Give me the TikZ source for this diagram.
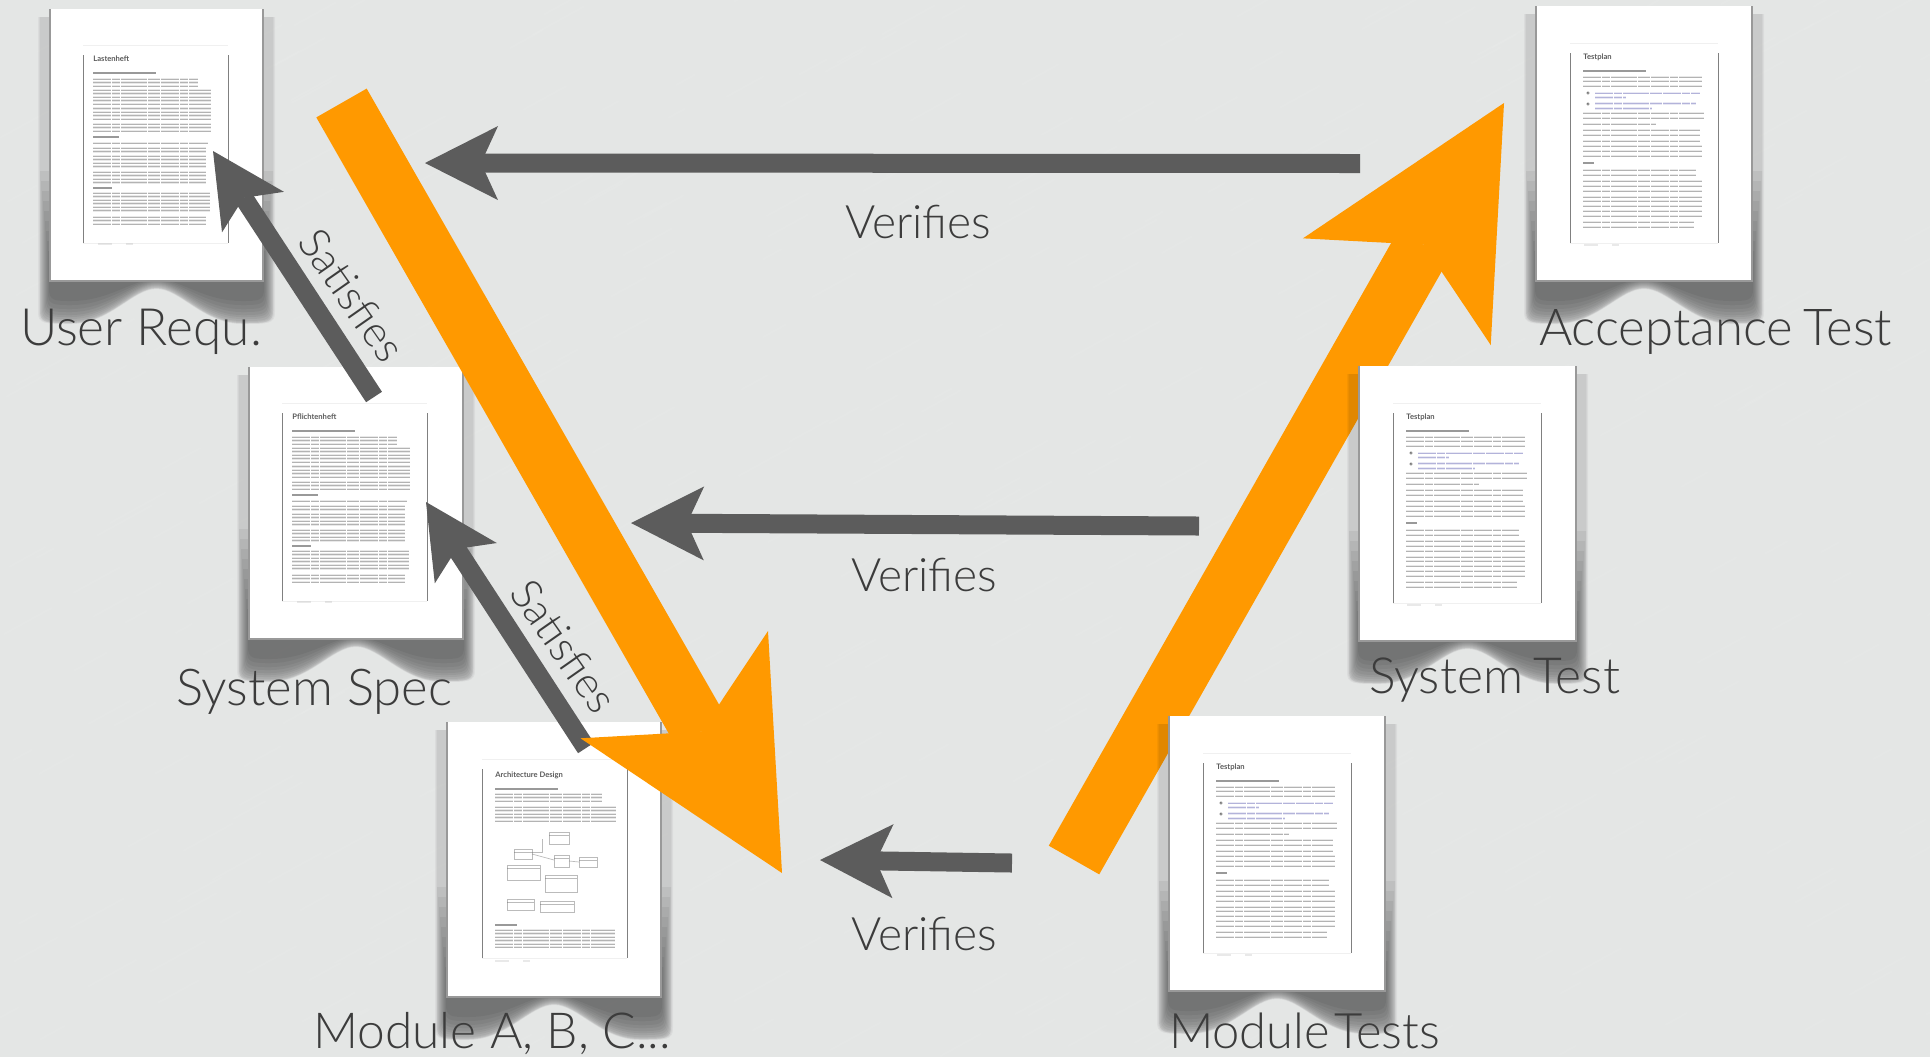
\documentclass[tikz,border=0pt]{standalone}
\usepackage{fontspec}
\usepackage{graphicx}
\setmainfont{Lato}[UprightFont=* Light,BoldFont=* Bold]
\setsansfont{Lato}
\usetikzlibrary{arrows.meta,calc}
\definecolor{bgcol}{HTML}{E4E6E5}
\definecolor{orangev}{HTML}{FF9900}
\definecolor{darkv}{HTML}{5C5C5C}
\definecolor{labelcol}{HTML}{3C3C3C}
\definecolor{rowcol}{HTML}{6A6A6A}
\definecolor{bluerow}{HTML}{6A6AB8}
\tikzset{
  x=0.5pt,y=-0.5pt,
  pagebox/.style={fill=white,inner sep=0pt,outer sep=0pt,anchor=north west},
  pageedge/.style={draw=black!40,line width=.6pt},
  bigarrow/.style={draw=orangev,line width=29pt,-{Stealth[length=108.5pt,width=108pt,inset=27pt,line width=0pt,fill=orangev]}},
  darkarrow/.style={draw=darkv,line width=9.5pt,-{Stealth[length=36.5pt,width=37pt,inset=8.5pt,line width=0pt,fill=darkv]}},
  doclabel/.style={text=labelcol,anchor=base west,inner sep=0pt,outer sep=0pt},
  linktext/.style={text=labelcol,inner sep=0pt,outer sep=0pt},
  rowa/.style={draw=rowcol,line width=1.3pt,opacity=.14,dash pattern=on 9pt off .5pt on 4pt off .5pt on 13pt off .5pt on 6pt off .5pt},
  rowb/.style={draw=rowcol,line width=.5pt,opacity=.42,dash pattern=on 9pt off .5pt on 4pt off .5pt on 13pt off .5pt on 6pt off .5pt},
  headrow/.style={draw=black,line width=1pt,opacity=.4},
  framerule/.style={draw=black!50,line width=.45pt},
  framefaint/.style={draw=black!6,line width=.4pt},
  minibox/.style={draw=rowcol,line width=.35pt,opacity=.45},
  minititle/.style={anchor=base west,inner sep=0pt,opacity=.65,font=\sffamily\bfseries\fontsize{3.8}{4}\selectfont},
}
\newcommand{\txrows}[3]{%
  \foreach \yy in {#3}{%
    \draw[rowa] (#1,\yy) -- (#2,\yy);
    \draw[rowb] (#1,\yy) -- (#2,\yy);
  }%
}
\newcommand{\bluerows}[3]{%
  \foreach \yy in {#3}{%
    \draw[rowa,draw=bluerow] (#1,\yy) -- (#2,\yy);
    \draw[rowb,draw=bluerow] (#1,\yy) -- (#2,\yy);
  }%
}
\newcommand{\innerframe}[4]{%
  \draw[framefaint] (#1,#3) -- (#2,#3);
  \draw[framefaint] (#1,#4) -- (#2,#4);
  \draw[framerule] (#1,#3+10) -- (#1,#4);
  \draw[framerule] (#2,#3+10) -- (#2,#4);
}
\newcommand{\footrows}[1]{%
  \draw[rowa] (48,#1) -- (62,#1);
  \draw[rowa] (76,#1) -- (83,#1);
}
\newcommand{\reqdoc}[1]{%
  \innerframe{33}{178}{36}{234}
  \node[minititle] at (43,52) {#1};
  \draw[headrow] (43,64) -- (106,64);
  \txrows{43}{148}{70,73.5,77}
  \txrows{43}{161}{81,84.5,88,91.5,95}
  \txrows{43}{161}{99.5,103,106.5,110}
  \txrows{43}{161}{115,118.5,122}
  \draw[headrow] (43,128) -- (69,128);
  \txrows{43}{158}{134}
  \txrows{43}{156}{139,142.5}
  \txrows{43}{156}{147,150.5,154,157.5}
  \txrows{43}{156}{163,166.5,170,173.5}
  \draw[headrow] (43,179) -- (62,179);
  \txrows{43}{160}{184,187.5,191,194.5,198,201.5}
  \txrows{43}{156}{208,211.5,215}
  \footrows{235}
}
\newcommand{\testdoc}{%
  \innerframe{34}{182}{37}{237}
  \node[minititle] at (47,53) {Testplan};
  \draw[headrow] (47,65) -- (110,65);
  \txrows{47}{166}{71,75,80}
  \draw[rowcol,line width=.3pt] (52,87) circle (1.2);
  \draw[rowcol,line width=.3pt] (52,98) circle (1.2);
  \bluerows{59}{164}{87}
  \bluerows{59}{90}{91.5}
  \bluerows{59}{160}{97.5}
  \bluerows{59}{116}{102.5}
  \txrows{47}{168}{107,112}
  \txrows{47}{120}{118}
  \txrows{47}{164}{124,129,135}
  \txrows{47}{166}{140,145,150}
  \draw[headrow] (47,157) -- (58,157);
  \txrows{47}{160}{164,169}
  \txrows{47}{166}{175,180,185,191,195,200,205,210}
  \txrows{47}{158}{216,221}
  \footrows{239}
}
\newcommand{\archdoc}{%
  \innerframe{35}{180}{37}{236}
  \node[minititle] at (48,55) {Architecture Design};
  \draw[headrow] (48,67) -- (111,67);
  \txrows{48}{155}{72,75.5,79}
  \txrows{48}{169}{85,88.5,92,95.5,99}
  \foreach \xa/\ya/\xb/\yb in {102/110/122/122, 67/127/85/137, 107/133/122/145, 132/135/150/145, 60/143/93/158, 98/153/130/170, 60/177/87/188, 93/179/127/190}{
    \draw[minibox] (\xa,\ya) rectangle (\xb,\yb);
    \draw[minibox] (\xa,\ya+3) -- (\xb,\ya+3);
  }
  \draw[minibox] (95,117) -- (95,130) -- (85,130);
  \draw[minibox] (85,132) -- (107,138);
  \draw[minibox] (122,139) -- (132,140);
  \draw[headrow] (48,203) -- (70,203);
  \txrows{48}{168}{208,211.5,215,218.5,222,225}
  \footrows{239}
}
% one shadow layer: x1,top,x2,y2, side inset, bottom offset, arch offset, opacity
\newcommand{\shadowlayer}[8]{%
  \pgfmathsetmacro{\sa}{#1-12+#5}
  \pgfmathsetmacro{\sb}{#3+12-#5}
  \pgfmathsetmacro{\sB}{#4+#6}
  \pgfmathsetmacro{\sP}{#4+#7}
  \pgfmathsetmacro{\sW}{#3-#1}
  \pgfmathsetmacro{\sc}{(#1+#3)/2}
  \fill[black,opacity=#8] (\sa,#2) -- (\sa,\sB-12)
    .. controls (\sa,\sB) and (\sa+6,\sB) .. (#1+0.10*\sW,\sB)
    .. controls (#1+0.28*\sW,\sB) and (\sc-0.11*\sW,\sP) .. (\sc,\sP)
    .. controls (\sc+0.11*\sW,\sP) and (#3-0.28*\sW,\sB) .. (#3-0.10*\sW,\sB)
    .. controls (\sb-6,\sB) and (\sb,\sB) .. (\sb,\sB-12)
    -- (\sb,#2) -- cycle;
}
\newcommand{\pageshadow}[4]{%
  \foreach \si/\sd/\sq in {0/43/8, 1/42.5/7.5, 2/42/7}{%
    \shadowlayer{#1}{#2+8}{#3}{#4}{\si}{\sd}{\sq}{.04}
  }%
  \foreach \si/\sd/\sq/\st in {2/42/7/110, 3/41/6/100, 4/40/5/90, 5/38/4/80, 6/36/3/70, 7/34/2/60, 8/31/1/50, 9/28/0/40, 10/24/-1/30, 11/20/-2/20}{%
    \shadowlayer{#1}{#4-\st}{#3}{#4}{\si}{\sd}{\sq}{.05}
  }%
}
\newcommand{\docpage}[6]{%
  \pgfmathsetmacro{\pw}{(#4-#2)*0.5}
  \pgfmathsetmacro{\ph}{(#5-#3)*0.5}
  \node[pagebox,minimum width=\pw pt,minimum height=\ph pt] (#1) at (#2,#3) {};
  \draw[pageedge] (#1.north west) -- (#1.south west) -- (#1.south east) -- (#1.north east);
  \begin{scope}[shift={(#2,#3)}]#6\end{scope}
}
\newcommand{\fit}[2]{\resizebox{#1pt}{!}{#2}}
\begin{document}
\begin{tikzpicture}
\useasboundingbox (0,0) rectangle (1930,1057);
\fill[bgcol] (0,0) rectangle (1930,1057);
% faint paper grain
\pgfmathsetseed{7}
\foreach \n in {1,...,500}{
  \pgfmathsetmacro{\gx}{rnd*1930}
  \pgfmathsetmacro{\gy}{rnd*1057}
  \pgfmathsetmacro{\gl}{15+rnd*40}
  \draw[white,line width=1pt,opacity=.05,line cap=round] (\gx,\gy) -- ++(\gl,-0.55*\gl);
}

\coordinate (oA) at (341.5,103);   \coordinate (oB) at (782,873);
\coordinate (oC) at (1074,860);    \coordinate (oD) at (1504,103);
\coordinate (vAs) at (1360,163.5); \coordinate (vAe) at (425,163);
\coordinate (vBs) at (1199,526);   \coordinate (vBe) at (631,523);
\coordinate (vCs) at (1012,863);   \coordinate (vCe) at (820,860);
\coordinate (sAs) at (374,397);    \coordinate (sAe) at (213,151);
\coordinate (sBs) at (586,748);    \coordinate (sBe) at (426,502);

\draw[bigarrow] (oC) -- (oD);

\pageshadow{50}{9}{263}{281}
\pageshadow{249}{367}{463}{639}
\pageshadow{447}{722}{661}{997}
\pageshadow{1536}{6}{1752}{281}
\pageshadow{1359}{366}{1576}{641}
\pageshadow{1169}{716}{1385}{991}

\docpage{userdoc}{50}{9}{263}{281}{\reqdoc{Lastenheft}}
\docpage{specdoc}{249}{367}{463}{639}{\reqdoc{Pflichtenheft}}
\docpage{moddoc}{447}{722}{661}{997}{\archdoc}
\docpage{accdoc}{1536}{6}{1752}{281}{\testdoc}
\docpage{sysdoc}{1359}{366}{1576}{641}{\testdoc}
\docpage{mtdoc}{1169}{716}{1385}{991}{\testdoc}

\node[doclabel] (lUser) at (20,345) {\fit{121}{User Requ.}};
\node[doclabel] (lSpec) at (176,705) {\fit{138}{System Spec}};
\node[doclabel] (lMod)  at (313,1048) {\fit{179}{Module A, B, C...}};
\node[doclabel] (lAcc)  at (1539,345) {\fit{176.5}{\spaceskip=2pt Acceptance Test}};
\node[doclabel] (lSys)  at (1369,693) {\fit{125.5}{\spaceskip=2pt System Test}};
\node[doclabel] (lMT)   at (1169,1048) {\fit{135.5}{\spaceskip=.8pt Module Tests}};

\draw[darkarrow] (vAs) -- (vAe);
\draw[darkarrow] (vBs) -- (vBe);
\draw[darkarrow] (vCs) -- (vCe);
\draw[darkarrow] (sAs) -- (sAe);
\draw[darkarrow] (sBs) -- (sBe);

\node[linktext] (tVa) at (918,222) {\fit{73}{Verifies}};
\node[linktext] (tVb) at (924,575) {\fit{73}{Verifies}};
\node[linktext] (tVc) at (924,934) {\fit{73}{Verifies}};
\node[linktext,rotate=-55] (tSa) at (352,295) {\fit{75}{Satisfies}};
\node[linktext,rotate=-55] (tSb) at (564,646) {\fit{75}{Satisfies}};

\draw[bigarrow] (oA) -- (oB);
\end{tikzpicture}
\end{document}
